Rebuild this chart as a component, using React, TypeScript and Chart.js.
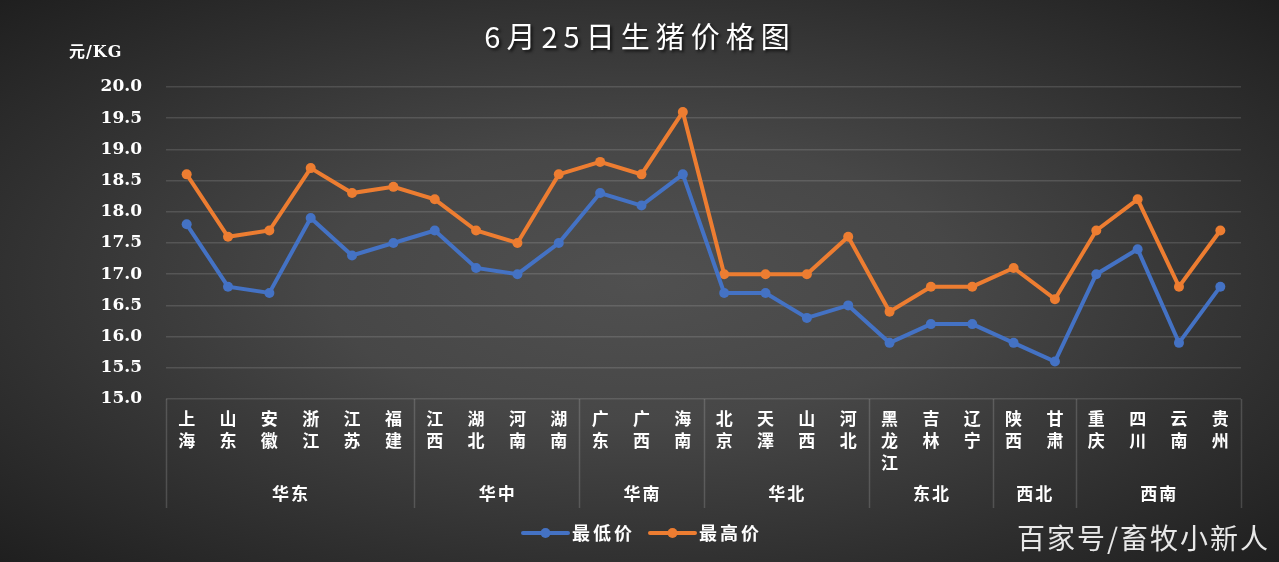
import React, { useEffect, useRef } from "react";
import { Chart, registerables } from "chart.js";

Chart.register(...registerables);

const provinces = [
  "上海", "山东", "安徽", "浙江", "江苏", "福建",
  "江西", "湖北", "河南", "湖南",
  "广东", "广西", "海南",
  "北京", "天澤", "山西", "河北",
  "黑龙江", "吉林", "辽宁",
  "陕西", "甘肃",
  "重庆", "四川", "云南", "贵州",
];
const groupNames = ["华东", "华中", "华南", "华北", "东北", "西北", "西南"];
const groupSizes = [6, 4, 3, 4, 3, 2, 4];
const lowPrices = [
  17.8, 16.8, 16.7, 17.9, 17.3, 17.5,
  17.7, 17.1, 17.0, 17.5,
  18.3, 18.1, 18.6,
  16.7, 16.7, 16.3, 16.5,
  15.9, 16.2, 16.2,
  15.9, 15.6,
  17.0, 17.4, 15.9, 16.8,
];
const highPrices = [
  18.6, 17.6, 17.7, 18.7, 18.3, 18.4,
  18.2, 17.7, 17.5, 18.6,
  18.8, 18.6, 19.6,
  17.0, 17.0, 17.0, 17.6,
  16.4, 16.8, 16.8,
  17.1, 16.6,
  17.7, 18.2, 16.8, 17.7,
];
const seriesNames = ["最低价", "最高价"];
const seriesColors = ["#4472C4", "#ED7D31"];
const titleText = "6月25日生猪价格图";
const yUnit = "元/KG";
const watermark = "百家号/畜牧小新人";

const CJK = '"Noto Sans CJK SC", sans-serif';

const overlayPlugin = {
  id: "overlay",
  afterDraw(chart: any) {
    const ctx = chart.ctx as CanvasRenderingContext2D;
    const xs = chart.scales.x;
    const area = chart.chartArea;
    const step = xs.getPixelForValue(1) - xs.getPixelForValue(0);
    ctx.save();
    // group separators and labels
    ctx.strokeStyle = "rgba(255,255,255,0.16)";
    ctx.lineWidth = 1.5;
    let idx = 0;
    const bounds: number[] = [xs.getPixelForValue(0) - step / 2];
    groupSizes.forEach((n) => {
      idx += n;
      bounds.push(xs.getPixelForValue(idx - 1) + step / 2);
    });
    bounds.forEach((bx) => {
      ctx.beginPath();
      ctx.moveTo(Math.round(bx) + 0.5, area.bottom);
      ctx.lineTo(Math.round(bx) + 0.5, 508);
      ctx.stroke();
    });
    ctx.fillStyle = "#ffffff";
    ctx.font = `bold 17px ${CJK}`;
    ctx.textAlign = "center";
    ctx.textBaseline = "middle";
    (ctx as any).letterSpacing = "2px";
    groupNames.forEach((g, i) => {
      ctx.fillText(g, (bounds[i] + bounds[i + 1]) / 2 + 1, 494);
    });
    // y unit
    (ctx as any).letterSpacing = "1px";
    ctx.textAlign = "left";
    ctx.font = `bold 16px "DejaVu Serif", ${CJK}`;
    ctx.fillText(yUnit, 69, 53);
    // title
    (ctx as any).letterSpacing = "6px";
    ctx.textAlign = "center";
    ctx.font = `29px ${CJK}`;
    ctx.shadowColor = "rgba(0,0,0,0.7)";
    ctx.shadowOffsetX = 2;
    ctx.shadowOffsetY = 2;
    ctx.shadowBlur = 3;
    ctx.fillText(titleText, 640, 37);
    ctx.shadowColor = "transparent";
    // legend
    (ctx as any).letterSpacing = "3px";
    ctx.font = `bold 18px ${CJK}`;
    ctx.textAlign = "left";
    const legX = [523, 650];
    chart.data.datasets.forEach((ds: any, i: number) => {
      const x0 = legX[i];
      const y0 = 533;
      ctx.strokeStyle = ds.borderColor;
      ctx.lineWidth = 4;
      ctx.lineCap = "round";
      ctx.beginPath();
      ctx.moveTo(x0, y0);
      ctx.lineTo(x0 + 45, y0);
      ctx.stroke();
      ctx.fillStyle = ds.borderColor;
      ctx.beginPath();
      ctx.arc(x0 + 22.5, y0, 5, 0, Math.PI * 2);
      ctx.fill();
      ctx.fillStyle = "#ffffff";
      ctx.fillText(ds.label, x0 + 49, y0);
    });
    // watermark
    (ctx as any).letterSpacing = "2px";
    ctx.font = `28px ${CJK}`;
    ctx.fillStyle = "#e8e8e8";
    ctx.textAlign = "right";
    ctx.fillText(watermark, 1270, 538);
    ctx.restore();
  },
};

export default function App() {
  const canvasRef = useRef<HTMLCanvasElement>(null);
  useEffect(() => {
    const canvas = canvasRef.current;
    if (!canvas) return;
    const chart = new Chart(canvas, {
      type: "line",
      data: {
        labels: provinces.map((p) => p.split("")),
        datasets: [lowPrices, highPrices].map((vals, i) => ({
          label: seriesNames[i],
          data: vals,
          borderColor: seriesColors[i],
          backgroundColor: seriesColors[i],
          borderWidth: 4,
          pointRadius: 5,
          pointBorderWidth: 0,
          pointBackgroundColor: seriesColors[i],
          tension: 0,
        })),
      },
      options: {
        animation: false,
        responsive: false,
        maintainAspectRatio: false,
        layout: { padding: { top: 87, right: 38, bottom: 0, left: 0 } },
        plugins: {
          legend: { display: false },
          title: { display: false },
          tooltip: { enabled: false },
        },
        scales: {
          x: {
            offset: true,
            grid: { display: false, drawTicks: false },
            border: { display: false },
            ticks: {
              autoSkip: false,
              maxRotation: 0,
              minRotation: 0,
              color: "#ffffff",
              padding: 8,
              font: { family: "Noto Sans CJK SC", size: 17, weight: "bold", lineHeight: 1.3 },
            },
            afterFit(scale: any) {
              scale.height = 163;
            },
          },
          y: {
            min: 15,
            max: 20,
            grid: { color: "rgba(255,255,255,0.13)", lineWidth: 1.5, drawTicks: false },
            border: { display: false },
            ticks: {
              stepSize: 0.5,
              color: "#ffffff",
              padding: 24,
              font: { family: "DejaVu Serif", size: 17, weight: "bold" },
              callback: (v: any) => Number(v).toFixed(1),
            },
            afterFit(scale: any) {
              scale.width = 166;
            },
          },
        },
      },
      plugins: [overlayPlugin],
    });
    return () => chart.destroy();
  }, []);
  return (
    <div
      style={{
        position: "fixed",
        left: 0,
        top: 0,
        width: 1279,
        height: 562,
        background:
          "radial-gradient(ellipse farthest-corner at 50% 50%, #505050 0%, #474747 35%, #2e2e2e 75%, #1f1f1f 100%)",
      }}
    >
      <canvas ref={canvasRef} width={1279} height={562} style={{ display: "block" }} />
    </div>
  );
}
